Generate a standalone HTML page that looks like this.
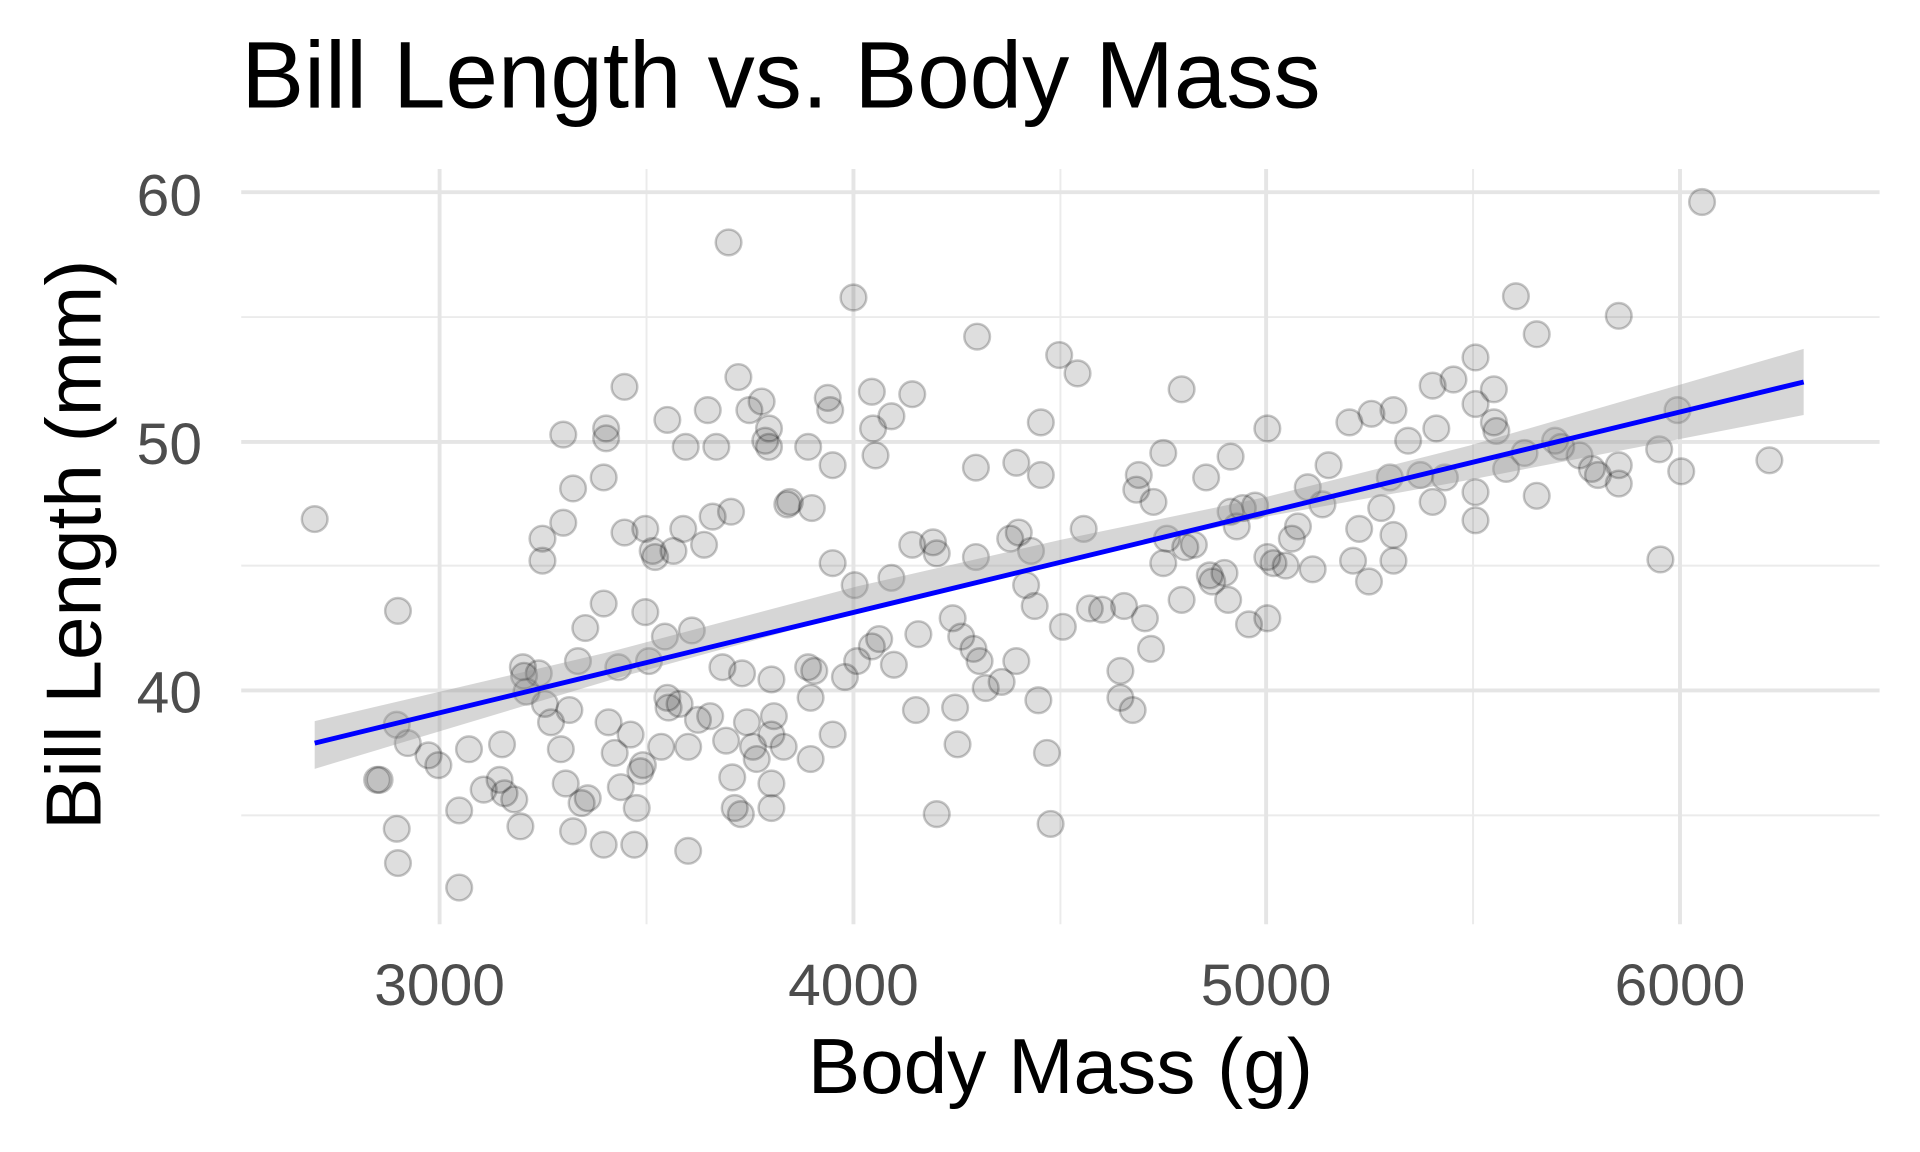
<!DOCTYPE html>
<html><head><meta charset="utf-8"><style>
html,body{margin:0;padding:0;background:#fff;}
svg{display:block;}
text{font-family:"Liberation Sans",Arial,sans-serif;}
</style></head><body>
<svg width="1920" height="1152" viewBox="0 0 1568 941" preserveAspectRatio="none" xmlns="http://www.w3.org/2000/svg">
<rect width="1568" height="941" fill="#fff"/>
<g stroke="#ebebeb" stroke-width="1.6">
<line x1="197" x2="1535" y1="259" y2="259"/><line x1="197" x2="1535" y1="462" y2="462"/><line x1="197" x2="1535" y1="666" y2="666"/>
<line x1="528" x2="528" y1="138" y2="755"/><line x1="866" x2="866" y1="138" y2="755"/><line x1="1203" x2="1203" y1="138" y2="755"/>
</g>
<g stroke="#e5e5e5" stroke-width="3.2">
<line x1="197" x2="1535" y1="157" y2="157"/><line x1="197" x2="1535" y1="361" y2="361"/><line x1="197" x2="1535" y1="564" y2="564"/>
<line x1="359" x2="359" y1="138" y2="755"/><line x1="697" x2="697" y1="138" y2="755"/><line x1="1034" x2="1034" y1="138" y2="755"/><line x1="1372" x2="1372" y1="138" y2="755"/>
</g>
<g fill="rgba(0,0,0,0.13)" stroke="rgba(0,0,0,0.22)" stroke-width="2">
<circle cx="257" cy="424" r="10.5"/><circle cx="308" cy="637" r="10.5"/><circle cx="310" cy="637" r="10.5"/><circle cx="324" cy="677" r="10.5"/><circle cx="325" cy="705" r="10.5"/><circle cx="325" cy="499" r="10.5"/><circle cx="324" cy="592" r="10.5"/><circle cx="333" cy="607" r="10.5"/><circle cx="350" cy="617" r="10.5"/><circle cx="358" cy="625" r="10.5"/><circle cx="375" cy="662" r="10.5"/><circle cx="375" cy="725" r="10.5"/><circle cx="383" cy="612" r="10.5"/><circle cx="395" cy="645" r="10.5"/><circle cx="408" cy="637" r="10.5"/><circle cx="410" cy="608" r="10.5"/><circle cx="412" cy="648" r="10.5"/><circle cx="420" cy="653" r="10.5"/><circle cx="425" cy="675" r="10.5"/><circle cx="427" cy="545" r="10.5"/><circle cx="428" cy="552" r="10.5"/><circle cx="430" cy="565" r="10.5"/><circle cx="440" cy="550" r="10.5"/><circle cx="443" cy="440" r="10.5"/><circle cx="443" cy="458" r="10.5"/><circle cx="445" cy="575" r="10.5"/><circle cx="450" cy="590" r="10.5"/><circle cx="458" cy="612" r="10.5"/><circle cx="460" cy="427" r="10.5"/><circle cx="460" cy="355" r="10.5"/><circle cx="462" cy="640" r="10.5"/><circle cx="465" cy="580" r="10.5"/><circle cx="468" cy="679" r="10.5"/><circle cx="468" cy="399" r="10.5"/><circle cx="472" cy="540" r="10.5"/><circle cx="475" cy="656" r="10.5"/><circle cx="478" cy="513" r="10.5"/><circle cx="480" cy="652" r="10.5"/><circle cx="493" cy="690" r="10.5"/><circle cx="493" cy="493" r="10.5"/><circle cx="493" cy="390" r="10.5"/><circle cx="495" cy="350" r="10.5"/><circle cx="495" cy="358" r="10.5"/><circle cx="497" cy="590" r="10.5"/><circle cx="502" cy="615" r="10.5"/><circle cx="505" cy="545" r="10.5"/><circle cx="507" cy="643" r="10.5"/><circle cx="510" cy="435" r="10.5"/><circle cx="510" cy="316" r="10.5"/><circle cx="515" cy="600" r="10.5"/><circle cx="518" cy="690" r="10.5"/><circle cx="520" cy="660" r="10.5"/><circle cx="523" cy="630" r="10.5"/><circle cx="525" cy="625" r="10.5"/><circle cx="527" cy="432" r="10.5"/><circle cx="527" cy="500" r="10.5"/><circle cx="530" cy="540" r="10.5"/><circle cx="533" cy="450" r="10.5"/><circle cx="535" cy="455" r="10.5"/><circle cx="540" cy="610" r="10.5"/><circle cx="543" cy="520" r="10.5"/><circle cx="545" cy="343" r="10.5"/><circle cx="545" cy="570" r="10.5"/><circle cx="546" cy="578" r="10.5"/><circle cx="550" cy="450" r="10.5"/><circle cx="555" cy="575" r="10.5"/><circle cx="558" cy="432" r="10.5"/><circle cx="560" cy="365" r="10.5"/><circle cx="562" cy="695" r="10.5"/><circle cx="562" cy="610" r="10.5"/><circle cx="565" cy="515" r="10.5"/><circle cx="570" cy="588" r="10.5"/><circle cx="575" cy="445" r="10.5"/><circle cx="578" cy="335" r="10.5"/><circle cx="580" cy="585" r="10.5"/><circle cx="582" cy="422" r="10.5"/><circle cx="585" cy="365" r="10.5"/><circle cx="590" cy="545" r="10.5"/><circle cx="593" cy="605" r="10.5"/><circle cx="595" cy="198" r="10.5"/><circle cx="597" cy="418" r="10.5"/><circle cx="598" cy="635" r="10.5"/><circle cx="600" cy="660" r="10.5"/><circle cx="603" cy="308" r="10.5"/><circle cx="605" cy="665" r="10.5"/><circle cx="606" cy="550" r="10.5"/><circle cx="610" cy="590" r="10.5"/><circle cx="612" cy="335" r="10.5"/><circle cx="615" cy="610" r="10.5"/><circle cx="618" cy="620" r="10.5"/><circle cx="622" cy="328" r="10.5"/><circle cx="625" cy="360" r="10.5"/><circle cx="628" cy="350" r="10.5"/><circle cx="628" cy="365" r="10.5"/><circle cx="630" cy="600" r="10.5"/><circle cx="630" cy="640" r="10.5"/><circle cx="630" cy="660" r="10.5"/><circle cx="632" cy="585" r="10.5"/><circle cx="630" cy="555" r="10.5"/><circle cx="640" cy="610" r="10.5"/><circle cx="643" cy="412" r="10.5"/><circle cx="645" cy="410" r="10.5"/><circle cx="660" cy="365" r="10.5"/><circle cx="660" cy="545" r="10.5"/><circle cx="662" cy="570" r="10.5"/><circle cx="662" cy="620" r="10.5"/><circle cx="663" cy="415" r="10.5"/><circle cx="665" cy="548" r="10.5"/><circle cx="676" cy="325" r="10.5"/><circle cx="678" cy="335" r="10.5"/><circle cx="680" cy="460" r="10.5"/><circle cx="680" cy="600" r="10.5"/><circle cx="680" cy="380" r="10.5"/><circle cx="690" cy="553" r="10.5"/><circle cx="697" cy="243" r="10.5"/><circle cx="698" cy="478" r="10.5"/><circle cx="700" cy="540" r="10.5"/><circle cx="712" cy="528" r="10.5"/><circle cx="712" cy="320" r="10.5"/><circle cx="713" cy="350" r="10.5"/><circle cx="715" cy="372" r="10.5"/><circle cx="718" cy="522" r="10.5"/><circle cx="728" cy="340" r="10.5"/><circle cx="728" cy="472" r="10.5"/><circle cx="730" cy="543" r="10.5"/><circle cx="745" cy="445" r="10.5"/><circle cx="745" cy="322" r="10.5"/><circle cx="748" cy="580" r="10.5"/><circle cx="750" cy="518" r="10.5"/><circle cx="762" cy="443" r="10.5"/><circle cx="765" cy="452" r="10.5"/><circle cx="765" cy="665" r="10.5"/><circle cx="778" cy="505" r="10.5"/><circle cx="780" cy="578" r="10.5"/><circle cx="782" cy="608" r="10.5"/><circle cx="785" cy="520" r="10.5"/><circle cx="795" cy="530" r="10.5"/><circle cx="798" cy="275" r="10.5"/><circle cx="797" cy="382" r="10.5"/><circle cx="797" cy="455" r="10.5"/><circle cx="800" cy="540" r="10.5"/><circle cx="805" cy="562" r="10.5"/><circle cx="818" cy="557" r="10.5"/><circle cx="825" cy="440" r="10.5"/><circle cx="830" cy="378" r="10.5"/><circle cx="830" cy="540" r="10.5"/><circle cx="832" cy="435" r="10.5"/><circle cx="838" cy="478" r="10.5"/><circle cx="842" cy="450" r="10.5"/><circle cx="845" cy="495" r="10.5"/><circle cx="848" cy="572" r="10.5"/><circle cx="850" cy="345" r="10.5"/><circle cx="850" cy="388" r="10.5"/><circle cx="855" cy="615" r="10.5"/><circle cx="858" cy="673" r="10.5"/><circle cx="865" cy="290" r="10.5"/><circle cx="868" cy="512" r="10.5"/><circle cx="880" cy="305" r="10.5"/><circle cx="885" cy="432" r="10.5"/><circle cx="890" cy="497" r="10.5"/><circle cx="900" cy="498" r="10.5"/><circle cx="915" cy="548" r="10.5"/><circle cx="915" cy="570" r="10.5"/><circle cx="918" cy="495" r="10.5"/><circle cx="925" cy="580" r="10.5"/><circle cx="928" cy="400" r="10.5"/><circle cx="930" cy="388" r="10.5"/><circle cx="935" cy="505" r="10.5"/><circle cx="940" cy="530" r="10.5"/><circle cx="942" cy="410" r="10.5"/><circle cx="950" cy="460" r="10.5"/><circle cx="950" cy="370" r="10.5"/><circle cx="953" cy="440" r="10.5"/><circle cx="965" cy="318" r="10.5"/><circle cx="965" cy="490" r="10.5"/><circle cx="968" cy="447" r="10.5"/><circle cx="975" cy="445" r="10.5"/><circle cx="985" cy="390" r="10.5"/><circle cx="988" cy="470" r="10.5"/><circle cx="990" cy="475" r="10.5"/><circle cx="1000" cy="468" r="10.5"/><circle cx="1003" cy="490" r="10.5"/><circle cx="1005" cy="418" r="10.5"/><circle cx="1005" cy="373" r="10.5"/><circle cx="1010" cy="430" r="10.5"/><circle cx="1015" cy="415" r="10.5"/><circle cx="1020" cy="510" r="10.5"/><circle cx="1025" cy="413" r="10.5"/><circle cx="1035" cy="350" r="10.5"/><circle cx="1035" cy="455" r="10.5"/><circle cx="1035" cy="505" r="10.5"/><circle cx="1040" cy="460" r="10.5"/><circle cx="1050" cy="462" r="10.5"/><circle cx="1055" cy="440" r="10.5"/><circle cx="1060" cy="430" r="10.5"/><circle cx="1068" cy="398" r="10.5"/><circle cx="1072" cy="465" r="10.5"/><circle cx="1080" cy="412" r="10.5"/><circle cx="1085" cy="380" r="10.5"/><circle cx="1102" cy="345" r="10.5"/><circle cx="1105" cy="458" r="10.5"/><circle cx="1110" cy="432" r="10.5"/><circle cx="1118" cy="475" r="10.5"/><circle cx="1120" cy="338" r="10.5"/><circle cx="1128" cy="415" r="10.5"/><circle cx="1135" cy="390" r="10.5"/><circle cx="1138" cy="335" r="10.5"/><circle cx="1138" cy="437" r="10.5"/><circle cx="1138" cy="458" r="10.5"/><circle cx="1150" cy="360" r="10.5"/><circle cx="1160" cy="388" r="10.5"/><circle cx="1170" cy="315" r="10.5"/><circle cx="1170" cy="410" r="10.5"/><circle cx="1173" cy="350" r="10.5"/><circle cx="1180" cy="390" r="10.5"/><circle cx="1187" cy="310" r="10.5"/><circle cx="1205" cy="292" r="10.5"/><circle cx="1205" cy="330" r="10.5"/><circle cx="1205" cy="402" r="10.5"/><circle cx="1205" cy="425" r="10.5"/><circle cx="1220" cy="318" r="10.5"/><circle cx="1220" cy="345" r="10.5"/><circle cx="1222" cy="352" r="10.5"/><circle cx="1230" cy="383" r="10.5"/><circle cx="1238" cy="242" r="10.5"/><circle cx="1245" cy="370" r="10.5"/><circle cx="1255" cy="405" r="10.5"/><circle cx="1255" cy="273" r="10.5"/><circle cx="1270" cy="360" r="10.5"/><circle cx="1275" cy="365" r="10.5"/><circle cx="1290" cy="372" r="10.5"/><circle cx="1300" cy="383" r="10.5"/><circle cx="1305" cy="388" r="10.5"/><circle cx="1322" cy="258" r="10.5"/><circle cx="1322" cy="380" r="10.5"/><circle cx="1322" cy="395" r="10.5"/><circle cx="1355" cy="367" r="10.5"/><circle cx="1356" cy="457" r="10.5"/><circle cx="1370" cy="335" r="10.5"/><circle cx="1373" cy="385" r="10.5"/><circle cx="1390" cy="165" r="10.5"/><circle cx="1445" cy="376" r="10.5"/>
</g>
<polygon points="257,589 500,532 700,479 866,441 1034,406 1200,364 1473,285 1473,339 1200,392 1034,422 866,459 700,500 500,555 257,628" fill="#999" fill-opacity="0.4"/>
<line x1="257" y1="607" x2="1473" y2="312" stroke="#0000ff" stroke-width="4"/>
<g font-size="48" fill="#4d4d4d" text-anchor="end">
<text x="165" y="176">60</text><text x="165" y="379">50</text><text x="165" y="582">40</text>
</g>
<g font-size="48" fill="#4d4d4d" text-anchor="middle">
<text x="359" y="821">3000</text><text x="697" y="821">4000</text><text x="1034" y="821">5000</text><text x="1372" y="821">6000</text>
</g>
<text x="866" y="893" font-size="64" text-anchor="middle" fill="#000">Body Mass (g)</text>
<text transform="translate(82,445) rotate(-90)" font-size="64" text-anchor="middle" fill="#000">Bill Length (mm)</text>
<text x="197" y="88" font-size="77" fill="#000">Bill Length vs. Body Mass</text>
</svg>
</body></html>
